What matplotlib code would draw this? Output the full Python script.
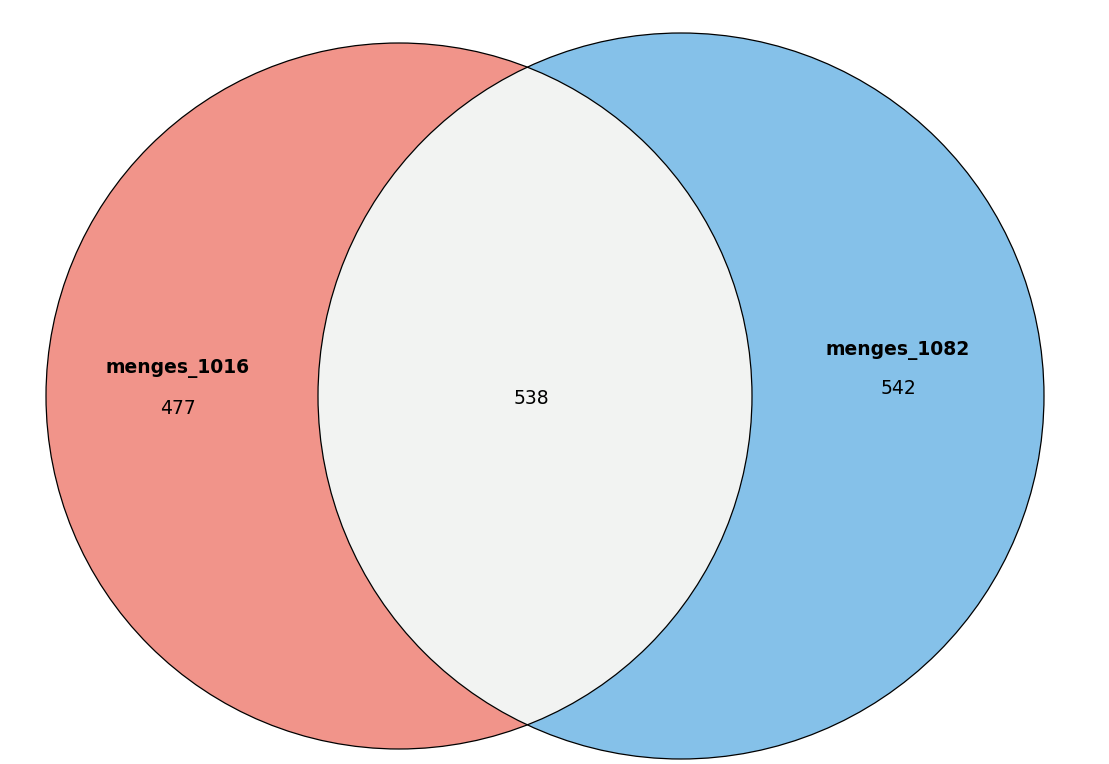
import matplotlib
matplotlib.use("Agg")
import matplotlib.pyplot as plt
from matplotlib.patches import Circle

set_names = ["menges_1016", "menges_1082"]
only_counts = [477, 542]
shared_count = 538
colors = ["#F1948A", "#85C1E9"]
inter_color = "#F2F3F2"

fig = plt.figure(figsize=(11.09, 7.64), dpi=100)
ax = fig.add_axes([0, 0, 1, 1])
ax.set_xlim(0, 1109)
ax.set_ylim(764, 0)
ax.axis("off")

cL = (399, 396); rL = 353
cR = (681, 396); rR = 363

left = Circle(cL, rL, facecolor=colors[0], edgecolor="none", zorder=1)
right = Circle(cR, rR, facecolor=colors[1], edgecolor="none", zorder=1)
ax.add_patch(left); ax.add_patch(right)
clip = Circle(cL, rL, transform=ax.transData, facecolor="none", edgecolor="none")
ax.add_patch(clip)
inter = Circle(cR, rR, facecolor=inter_color, edgecolor="none", zorder=2)
ax.add_patch(inter)
inter.set_clip_path(clip)
for c, r in [(cL, rL), (cR, rR)]:
    ax.add_patch(Circle(c, r, facecolor="none", edgecolor="black", lw=0.9, zorder=3))

fs = 13.5
ax.text(178, 368, set_names[0], ha="center", va="center", fontsize=fs, fontweight="bold", zorder=4)
ax.text(178, 408, str(only_counts[0]), ha="center", va="center", fontsize=fs, zorder=4)
ax.text(531, 398, str(shared_count), ha="center", va="center", fontsize=fs, zorder=4)
ax.text(898, 351, set_names[1], ha="center", va="center", fontsize=fs, fontweight="bold", zorder=4)
ax.text(898, 389, str(only_counts[1]), ha="center", va="center", fontsize=fs, zorder=4)

fig.savefig("out.png", dpi=100, facecolor="white")
